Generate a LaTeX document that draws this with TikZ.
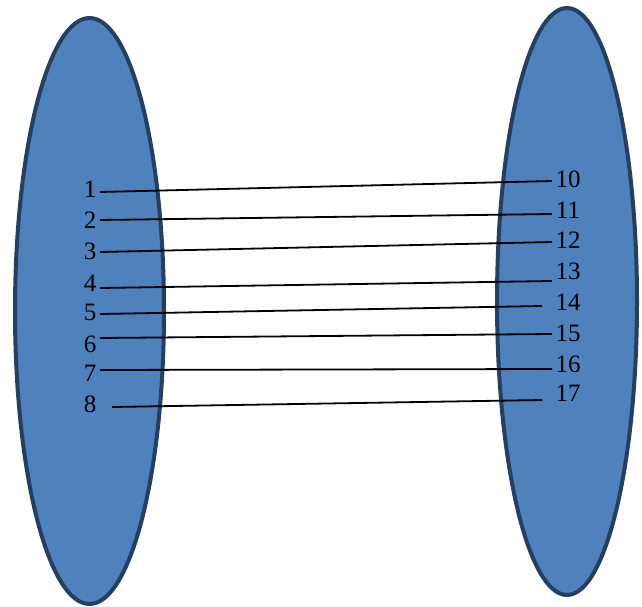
\documentclass[tikz,border=0pt]{standalone}
\usepackage{fontspec}
\setmainfont{Liberation Serif}
\definecolor{setfill}{HTML}{4F81BD}
\definecolor{setdraw}{HTML}{243F60}
\tikzset{
  setshape/.style={line width=4pt, fill=setfill, draw=setdraw},
  elem/.style={font=\fontsize{25}{25}\selectfont, inner sep=0pt},
  pairline/.style={line width=1.8pt}
}
\begin{document}
\begin{tikzpicture}[x=1pt,y=-1pt]
    \useasboundingbox (0,0) rectangle (642,607);
    \draw[setshape] (89.5,311) ellipse (74.5pt and 293pt);
    \draw[setshape] (567,301.5) ellipse (70pt and 293.5pt);
    \foreach \n/\y in {1/189,2/220,3/251,4/283,5/312,6/344,7/373,8/404}
        \node[elem] (l\n) at (90,\y) {\n};
    \foreach \n/\y in {10/179,11/210,12/240,13/271,14/302,15/333,16/364,17/393}
        \node[elem] (r\n) at (568,\y) {\n};
    \foreach \n/\xa/\ya/\m/\xb/\yb in {1/100/192/10/552/181, 2/100/220/11/552/214,
        3/100/252/12/552/242, 4/100/288/13/552/281, 5/100/314/14/542/306,
        6/100/338/15/552/334, 7/100/370/16/552/369, 8/112/407/17/542/400} {
        \coordinate (a\n) at (\xa,\ya);
        \coordinate (b\m) at (\xb,\yb);
        \draw[pairline] (a\n) -- (b\m);
    }
\end{tikzpicture}
\end{document}
